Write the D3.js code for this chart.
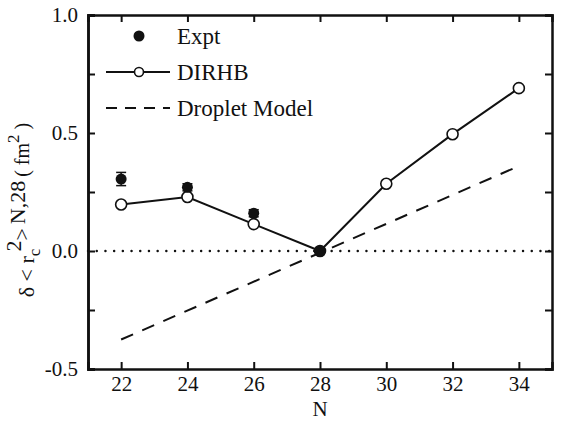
<!DOCTYPE html>
<html>
<head>
<meta charset="utf-8">
<script src="https://cdn.jsdelivr.net/npm/d3@7"></script>
<style>
  body { margin: 0; background: #fff; }
  svg text { font-family: "Liberation Serif", "Times New Roman", serif !important; fill: #111; }
</style>
</head>
<body>
<div id="chart"></div>
<script>
// data
const exptN = [22, 24, 26, 28];
const exptVal = [0.305, 0.27, 0.16, 0.0];
const exptErr = [0.028, 0.015, 0.015, 0.0];

const dirhbN = [22, 24, 26, 28, 30, 32, 34];
const dirhbVal = [0.197, 0.229, 0.114, 0.0, 0.285, 0.495, 0.69];

const dropN = [22, 34];
const dropVal = [-0.375, 0.36];

const xTicks = [22, 24, 26, 28, 30, 32, 34];
const yTicks = [-0.5, 0.0, 0.5, 1.0];
const yMinor = [-0.25, 0.25, 0.75];

const width = 562, height = 421;
const margin = {left: 88, right: 10, top: 15, bottom: 52};

const svg = d3.select("#chart").append("svg")
    .attr("width", width)
    .attr("height", height);

const x = d3.scaleLinear().domain([21, 35]).range([margin.left, width - margin.right]);
const y = d3.scaleLinear().domain([-0.5, 1.0]).range([height - margin.bottom, margin.top]);

const x0 = x.range()[0], x1 = x.range()[1];
const y0 = y.range()[0], y1 = y.range()[1];

// zero reference line (dotted)
svg.append("line")
    .attr("x1", x0).attr("x2", x1)
    .attr("y1", y(0)).attr("y2", y(0))
    .attr("stroke", "#111")
    .attr("stroke-width", 2.4)
    .attr("stroke-linecap", "round")
    .attr("stroke-dasharray", "0.1,8.6");

// droplet model (dashed)
const line = d3.line().x(d => x(d[0])).y(d => y(d[1]));
svg.append("path")
    .datum(dropN.map((n, i) => [n, dropVal[i]]))
    .attr("d", line)
    .attr("fill", "none")
    .attr("stroke", "#111")
    .attr("stroke-width", 2)
    .attr("stroke-dasharray", "13,10");

// DIRHB line
svg.append("path")
    .datum(dirhbN.map((n, i) => [n, dirhbVal[i]]))
    .attr("d", line)
    .attr("fill", "none")
    .attr("stroke", "#111")
    .attr("stroke-width", 2);

// experiment error bars + dots
const expt = exptN.map((n, i) => ({n: n, v: exptVal[i], e: exptErr[i]}));
const eb = svg.selectAll(".err").data(expt.filter(d => d.e > 0)).enter().append("g");
eb.append("line")
    .attr("x1", d => x(d.n)).attr("x2", d => x(d.n))
    .attr("y1", d => y(d.v + d.e)).attr("y2", d => y(d.v - d.e))
    .attr("stroke", "#111").attr("stroke-width", 1.5);
eb.append("line")
    .attr("x1", d => x(d.n) - 5).attr("x2", d => x(d.n) + 5)
    .attr("y1", d => y(d.v + d.e)).attr("y2", d => y(d.v + d.e))
    .attr("stroke", "#111").attr("stroke-width", 1.5);
eb.append("line")
    .attr("x1", d => x(d.n) - 5).attr("x2", d => x(d.n) + 5)
    .attr("y1", d => y(d.v - d.e)).attr("y2", d => y(d.v - d.e))
    .attr("stroke", "#111").attr("stroke-width", 1.5);

// DIRHB open circles
svg.selectAll(".dirhb").data(dirhbN.map((n, i) => [n, dirhbVal[i]])).enter()
    .append("circle")
    .attr("cx", d => x(d[0])).attr("cy", d => y(d[1]))
    .attr("r", 5.5)
    .attr("fill", "#fff")
    .attr("stroke", "#111")
    .attr("stroke-width", 1.6);

svg.selectAll(".expt").data(expt).enter()
    .append("circle")
    .attr("cx", d => x(d.n)).attr("cy", d => y(d.v))
    .attr("r", 5.5)
    .attr("fill", "#111");

// axes frame with inward ticks
const fmtY = d => d3.format(".1f")(d).replace("−", "-");
const axisG = svg.append("g");
axisG.append("g")
    .attr("transform", `translate(0,${y0})`)
    .call(d3.axisBottom(x).tickValues(xTicks).tickSize(-7).tickPadding(7).tickFormat(d3.format("d")));
axisG.append("g")
    .attr("transform", `translate(0,${y1})`)
    .call(d3.axisTop(x).tickValues(xTicks).tickSize(-7).tickFormat(""));
axisG.append("g")
    .attr("transform", `translate(${x0},0)`)
    .call(d3.axisLeft(y).tickValues(yTicks).tickSize(-7).tickPadding(10).tickFormat(fmtY));
axisG.append("g")
    .attr("transform", `translate(${x0},0)`)
    .call(d3.axisLeft(y).tickValues(yMinor).tickSize(-7).tickFormat(""));
axisG.append("g")
    .attr("transform", `translate(${x1},0)`)
    .call(d3.axisRight(y).tickValues(yTicks.concat(yMinor)).tickSize(-7).tickFormat(""));

axisG.selectAll("g")
    .attr("font-family", "Liberation Serif")
    .attr("font-size", 21);
axisG.selectAll(".domain").attr("stroke", "#111").attr("stroke-width", 2.5);
axisG.selectAll(".tick line").attr("stroke", "#111").attr("stroke-width", 2);
axisG.selectAll(".tick text").attr("fill", "#111");

// x axis title
svg.append("text")
    .attr("x", x(28))
    .attr("y", 416)
    .attr("text-anchor", "middle")
    .style("font-size", "21px")
    .text("N");

// y axis title
const yl = svg.append("text")
    .attr("transform", "translate(34,210) rotate(-90)")
    .attr("text-anchor", "middle")
    .style("font-size", "22px");
yl.append("tspan").text("δ < r");
yl.append("tspan").attr("dy", 6).style("font-size", "17px").text("c");
yl.append("tspan").attr("dy", -19).attr("dx", -3).style("font-size", "22px").text("2");
yl.append("tspan").attr("dy", 8).text(">");
yl.append("tspan").attr("dy", -4).attr("dx", 4).text("N,28");
yl.append("tspan").attr("dy", 4).attr("dx", 4).style("font-size", "20px").text("( fm");
yl.append("tspan").attr("dy", -10).style("font-size", "17px").text("2");
yl.append("tspan").attr("dy", 10).style("font-size", "20px").text(" )");

// legend
const leg = svg.append("g");
const legY = [36, 72, 108];
const legText = ["Expt", "DIRHB", "Droplet Model"];
leg.append("circle").attr("cx", 139).attr("cy", legY[0]).attr("r", 5.5).attr("fill", "#111");
leg.append("line").attr("x1", 106).attr("x2", 170).attr("y1", legY[1]).attr("y2", legY[1])
    .attr("stroke", "#111").attr("stroke-width", 2);
leg.append("circle").attr("cx", 139).attr("cy", legY[1]).attr("r", 4.5)
    .attr("fill", "#fff").attr("stroke", "#111").attr("stroke-width", 1.6);
leg.append("line").attr("x1", 106).attr("x2", 170).attr("y1", legY[2]).attr("y2", legY[2])
    .attr("stroke", "#111").attr("stroke-width", 2).attr("stroke-dasharray", "11,8");
leg.selectAll(".lt").data(legText).enter().append("text")
    .attr("x", 177)
    .attr("y", (d, i) => legY[i] + 8)
    .style("font-size", "23px")
    .text(d => d);
</script>
</body>
</html>
